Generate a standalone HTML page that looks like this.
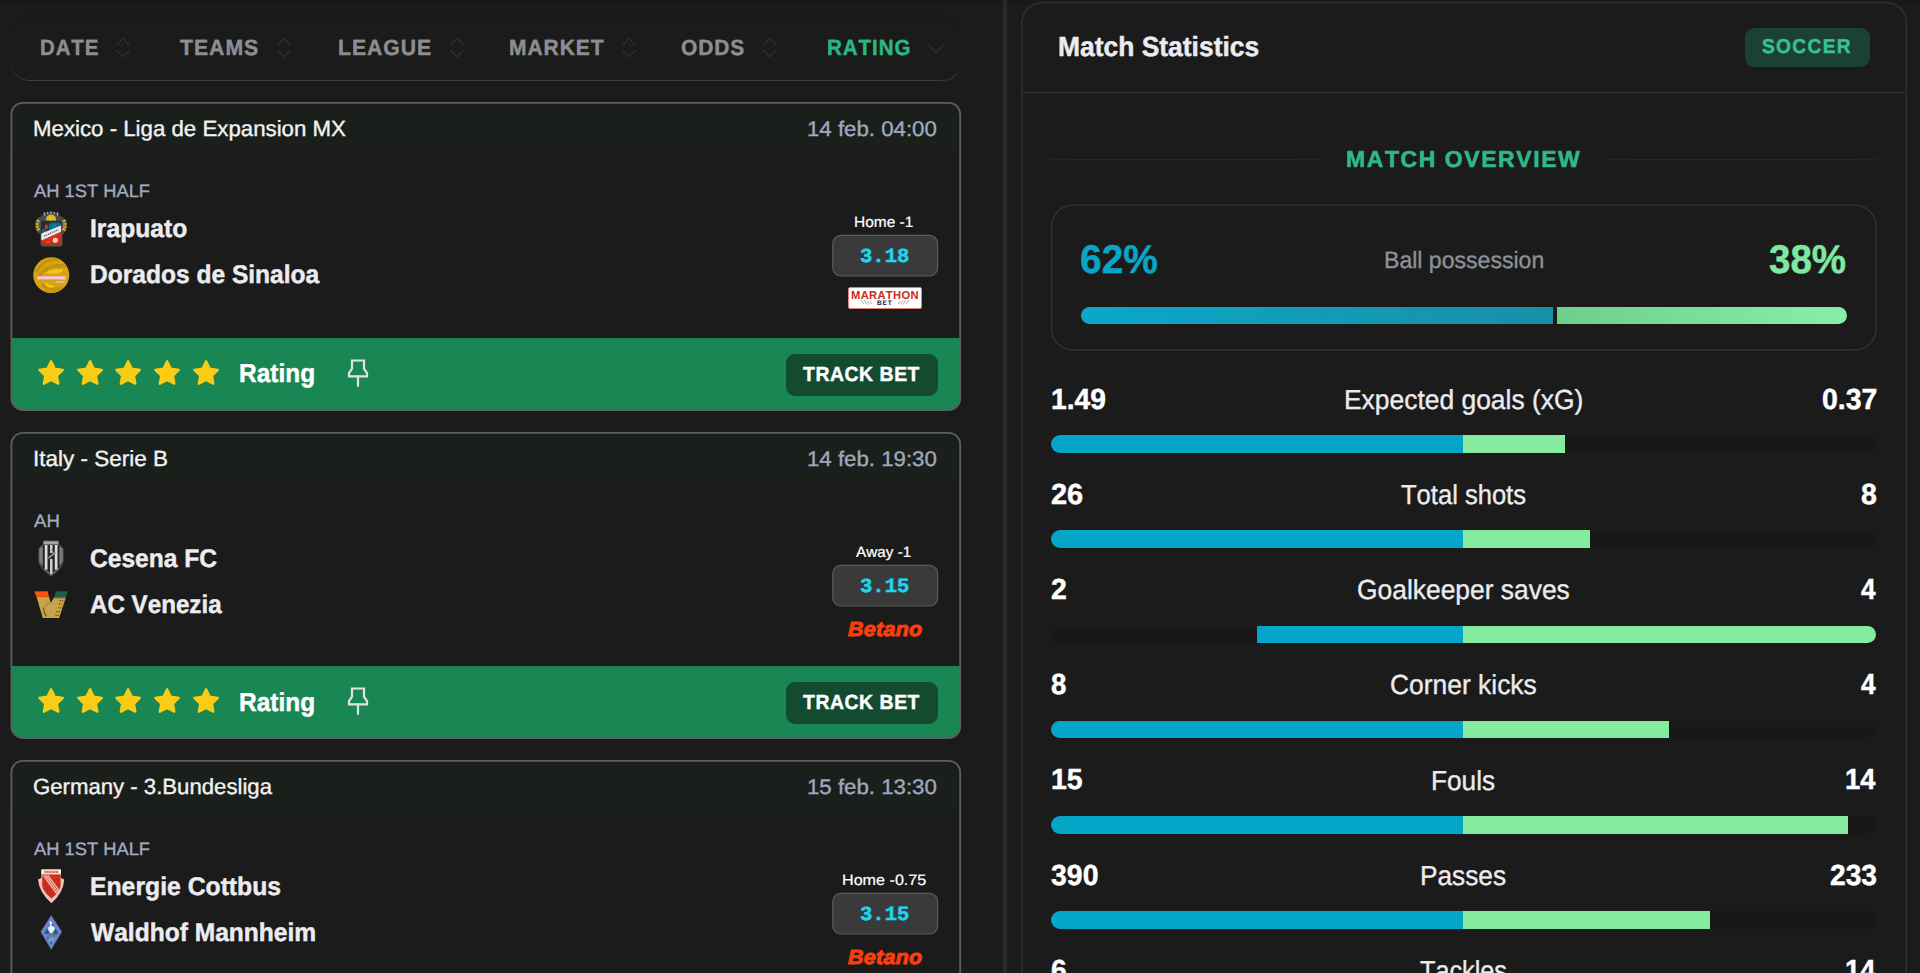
<!DOCTYPE html>
<html lang="en"><head><meta charset="utf-8"><title>Match Statistics</title>
<style>
html,body{margin:0;padding:0;background:#1b1b1b;}
body{width:1920px;height:973px;overflow:hidden;position:relative;font-family:"Liberation Sans",sans-serif;}
.t{position:absolute;white-space:nowrap;transform-origin:0 0;text-rendering:geometricPrecision;font-kerning:none !important;}
.a{position:absolute;box-sizing:border-box;}
svg{position:absolute;overflow:visible;}
</style></head><body>

<div class="a" style="left:0;top:0;width:1920px;height:5px;background:#181818"></div>
<div class="a" style="left:1003px;top:0;width:4px;height:973px;background:#2a2a2a"></div>
<div class="a" style="left:10.5px;top:15.4px;width:950px;height:65.6px;border-radius:18.5px;background:#1b1b1b;border:0 solid transparent;border-top:3px solid #191919;border-bottom:1.6px solid #3e3e3e"></div>
<div class="t" style="left:39.57px;top:37px;font:700 22px/22px 'Liberation Sans',sans-serif;color:#8d8e93;letter-spacing:1.0px;-webkit-text-stroke:0.45px #8d8e93;transform:scaleX(0.9286);">DATE</div>
<svg style="left:116px;top:37px" width="14" height="20" viewBox="0 0 14 20" fill="none" stroke="#303030" stroke-width="1.3"><path d="M0.3 8.4 L7 1.4 L13.7 8.4"/><path d="M0.3 13 L7 19.8 L13.7 13"/></svg>
<div class="t" style="left:179.90px;top:37px;font:700 22px/22px 'Liberation Sans',sans-serif;color:#8d8e93;letter-spacing:1.0px;-webkit-text-stroke:0.45px #8d8e93;transform:scaleX(0.9667);">TEAMS</div>
<svg style="left:277.2px;top:37px" width="14" height="20" viewBox="0 0 14 20" fill="none" stroke="#303030" stroke-width="1.3"><path d="M0.3 8.4 L7 1.4 L13.7 8.4"/><path d="M0.3 13 L7 19.8 L13.7 13"/></svg>
<div class="t" style="left:337.72px;top:37px;font:700 22px/22px 'Liberation Sans',sans-serif;color:#8d8e93;letter-spacing:1.0px;-webkit-text-stroke:0.45px #8d8e93;transform:scaleX(0.9638);">LEAGUE</div>
<svg style="left:450px;top:37px" width="14" height="20" viewBox="0 0 14 20" fill="none" stroke="#303030" stroke-width="1.3"><path d="M0.3 8.4 L7 1.4 L13.7 8.4"/><path d="M0.3 13 L7 19.8 L13.7 13"/></svg>
<div class="t" style="left:508.53px;top:37px;font:700 22px/22px 'Liberation Sans',sans-serif;color:#8d8e93;letter-spacing:1.0px;-webkit-text-stroke:0.45px #8d8e93;transform:scaleX(0.9542);">MARKET</div>
<svg style="left:622px;top:37px" width="14" height="20" viewBox="0 0 14 20" fill="none" stroke="#303030" stroke-width="1.3"><path d="M0.3 8.4 L7 1.4 L13.7 8.4"/><path d="M0.3 13 L7 19.8 L13.7 13"/></svg>
<div class="t" style="left:680.98px;top:37px;font:700 22px/22px 'Liberation Sans',sans-serif;color:#8d8e93;letter-spacing:1.0px;-webkit-text-stroke:0.45px #8d8e93;transform:scaleX(0.9511);">ODDS</div>
<svg style="left:762.6px;top:37px" width="14" height="20" viewBox="0 0 14 20" fill="none" stroke="#303030" stroke-width="1.3"><path d="M0.3 8.4 L7 1.4 L13.7 8.4"/><path d="M0.3 13 L7 19.8 L13.7 13"/></svg>
<div class="t" style="left:826.76px;top:37px;font:700 22px/22px 'Liberation Sans',sans-serif;color:#2bb783;letter-spacing:1.0px;-webkit-text-stroke:0.45px #2bb783;transform:scaleX(0.9346);">RATING</div>
<svg style="left:926px;top:42px" width="20" height="12" viewBox="926 42 20 12" fill="none" stroke="#323232" stroke-width="1.3"><path d="M927.3 43.6 L936 52.4 L944.7 43.6"/></svg>
<div class="a" style="left:11.4px;top:102.8px;width:948.8px;height:307.2px;border-radius:11.5px;background:#1b1b1b;overflow:hidden">
<div class="a" style="left:0;top:0;width:100%;height:50.3px;background:#1a1f1c"></div>
<div class="a" style="left:0;top:235.3px;width:100%;height:90px;background:#198754"></div>
</div>
<svg style="left:0;top:0" width="1000" height="973"><rect x="11.4" y="102.8" width="948.8" height="307.2" rx="11.5" fill="none" stroke="#5e5e5e" stroke-width="1.8"/></svg>
<div class="t" style="left:33.28px;top:118px;font:400 22px/22px 'Liberation Sans',sans-serif;color:#f2f2f2;-webkit-text-stroke:0.35px #f2f2f2;transform:scaleX(1.0113);">Mexico - Liga de Expansion MX</div>
<div class="t" style="left:806.91px;top:119px;font:400 21px/21px 'Liberation Sans',sans-serif;color:#9fa9be;-webkit-text-stroke:0.35px #9fa9be;transform:scaleX(1.0591);">14 feb. 04:00</div>
<div class="t" style="left:33.57px;top:182px;font:400 18px/18px 'Liberation Sans',sans-serif;color:#9fabc2;-webkit-text-stroke:0.35px #9fabc2;transform:scaleX(1.0178);">AH 1ST HALF</div>
<div class="t" style="left:89.79px;top:217px;font:700 25.5px/25.5px 'Liberation Sans',sans-serif;color:#ececf0;-webkit-text-stroke:0.45px #ececf0;transform:scaleX(0.9667);">Irapuato</div>
<div class="t" style="left:90.09px;top:263px;font:700 25.5px/25.5px 'Liberation Sans',sans-serif;color:#ececf0;-webkit-text-stroke:0.45px #ececf0;transform:scaleX(0.9629);">Dorados de Sinaloa</div>
<div class="t" style="left:854.00px;top:215px;font:400 15px/15px 'Liberation Sans',sans-serif;color:#fff;-webkit-text-stroke:0.22px #fff;transform:scaleX(1.0326);">Home -1</div>
<svg style="left:830px;top:232.5px" width="110" height="46" viewBox="0 0 110 46"><rect x="2.8" y="2.4" width="104.8" height="40.6" rx="8" fill="#3a3a3a" stroke="#5c5c5c" stroke-width="1.2"/></svg>
<div class="t" style="left:859.81px;top:248px;font:700 20px/20px 'Liberation Mono',monospace;color:#22d3ee;-webkit-text-stroke:0.5px #22d3ee;transform:scaleX(1.0296);">3.18</div>
<div class="a" style="left:848px;top:286.7px;width:74px;height:22.5px;background:#fff;border:1px solid #e27f70;border-radius:2px"></div><div class="t" style="left:851.26px;top:291px;font:700 11.5px/11.5px 'Liberation Sans',sans-serif;color:#cc2a1a;letter-spacing:0.4px;transform:scaleX(0.9659);">MARATHON</div><div class="t" style="left:877.26px;top:301px;font:700 6.5px/6.5px 'Liberation Sans',sans-serif;color:#222;letter-spacing:0.8px;transform:scaleX(1.0145);">BET</div><svg style="left:860px;top:299.2px" width="50" height="7" viewBox="0 0 50 7" stroke="#aaa" stroke-width="1" fill="none"><path d="M1 1 L4 5 M4 1 L7 5.5 M7 1.5 L9.5 5.5 M10 2 L11.5 5"/><path d="M49 1 L46 5 M46 1 L43 5.5 M43 1.5 L40.5 5.5 M40 2 L38.5 5"/></svg>
<svg style="left:33px;top:208.5px" width="38" height="40" viewBox="33 209 38 40"><path d="M43 215.5 L44 212 L47 213.5 L51 211.5 L55 213.5 L58 212 L59 215.5 L64 218 Q68.4 224 65.4 231.6 L62.5 234.6 V244 Q62 246.6 59 246.6 H43.5 Q41 246.6 40.6 244 V234.6 L37 231.6 Q33.8 224 38 218 Z" fill="#4c4c4c" stroke="#3a3a3a" stroke-width="1" stroke-linejoin="round"/><path d="M44.3 215.5 L44.8 212.6 M47.6 214 L47.9 211.8 M51 213.6 V211.4 M54.4 214 L54.1 211.8 M57.7 215.5 L57.2 212.6" stroke="#b5b5b5" stroke-width="1.2"/><path d="M39 230.4 Q35.6 225 38.8 219.4" stroke="#c9aa36" stroke-width="3.4" fill="none" stroke-dasharray="2.2 0.7"/><path d="M63.2 230.4 Q66.6 225 63.4 219.4" stroke="#c9aa36" stroke-width="3.4" fill="none" stroke-dasharray="2.2 0.7"/><path d="M40.4 229 Q38.4 225 40.2 221" stroke="#8a3a1c" stroke-width="0.9" fill="none" stroke-dasharray="1 1.6"/><path d="M61.8 229 Q63.8 225 62 221" stroke="#8a3a1c" stroke-width="0.9" fill="none" stroke-dasharray="1 1.6"/><path d="M41 220.8 H61.2 L62 232 V243.5 Q62 246 59.5 246 H43.5 Q41.1 246 41 243.5 Z" fill="#8a4520"/><path d="M41 220.8 H61.2 V226 L41 235 Z" fill="#1d3238"/><path d="M49 224 Q51 221.6 55 222.4 Q59.5 221.4 60.8 224.5 L60.8 226.4 L49.6 231.2 Q47.8 228 49 224 Z" fill="#0d6a88"/><path d="M42.2 229.5 Q44 227.6 45.5 229.4 L46.2 232.4 L42 234.2 Z" fill="#0d6a88"/><path d="M53.2 226.2 Q54.6 224 56.2 225.4" stroke="#18a0c0" stroke-width="0.8" fill="none"/><path d="M45 224.8 H47.8 V228.6 L46.4 229.6 L45 228.6 Z" fill="#cf3a1c"/><path d="M46 220.6 Q45.6 216.4 48.6 215.2 Q51 213.8 53.6 215.2 Q56.6 216.6 56 220.6 Z" fill="#d8b62a"/><path d="M50.8 216 L51.4 218 L53.2 218.4 L51.6 219.3 L51.8 220.6 H50 L50.2 219.3 L48.8 218.4 L50.4 218 Z" fill="#f2c414"/><path d="M60.9 225.4 V231.8 L41.4 240.4 V233.6 Z" fill="#ececec"/><path d="M44 236.2 L58.5 229.6" stroke="#7d7d7d" stroke-width="1.8" stroke-dasharray="1.4 0.8"/><path d="M60.6 232.4 V243 H43.6 Q42 243 42 241.4 L41.8 240.6 Z" fill="#dc3018"/><circle cx="55.3" cy="240.2" r="2.5" fill="#f6d2cb"/><circle cx="55.3" cy="240.2" r="1" fill="#cfdfe6"/><rect x="47.2" y="241.2" width="1.8" height="1.6" fill="#ff5a0a"/></svg><svg style="left:32px;top:255.5px" width="39" height="39" viewBox="32 256 39 39"><defs><clipPath id="dc"><circle cx="51.25" cy="275.15" r="17.9"/></clipPath></defs><circle cx="51.25" cy="275.15" r="17.95" fill="#d8a414"/><g clip-path="url(#dc)"><path d="M36 272 Q44 258 60 259" stroke="#c4930e" stroke-width="3" fill="none"/><path d="M38 278 Q45 264 66 266" stroke="#c4930e" stroke-width="3.6" fill="none"/><path d="M42 284 Q48 292 60 288" stroke="#c4930e" stroke-width="3.2" fill="none"/><path d="M44 290 Q52 296 64 286" stroke="#c9980f" stroke-width="2" fill="none"/><path d="M46 272.8 Q49 269.6 53 270.4 L56 268.4 L58.6 269.8 Q61.6 268.8 63.8 269.6 Q62 272.6 58 273 Q52 274.4 46 272.8 Z" fill="#f7c912"/><path d="M44.4 282.4 Q48 283.4 50.6 285.4 Q53.2 284.8 55 286.6 Q51 288.6 47.6 287 Q45.4 285.4 44.4 282.4 Z" fill="#f7c912"/><rect x="37.3" y="276.1" width="28.5" height="3.7" rx="0.8" fill="#eeb4bc"/><path d="M38.4 277.9 H65" stroke="#fbe9ec" stroke-width="1.3" stroke-dasharray="2 0.9"/><path d="M40 280.2 H60" stroke="#c9a12a" stroke-width="0.8"/><rect x="55.8" y="281.2" width="9" height="1.6" fill="#ecb0b8"/></g></svg>
<svg style="left:37.05px;top:358.70px" width="28.2" height="28.2" viewBox="0 0 24 24"><path d="M12 2l3.09 6.26L22 9.27l-5 4.87 1.18 6.88L12 17.77l-6.18 3.25L7 14.14 2 9.27l6.91-1.01L12 2z" fill="#facc15" stroke="#facc15" stroke-width="2" stroke-linejoin="round"/></svg>
<svg style="left:75.70px;top:358.70px" width="28.2" height="28.2" viewBox="0 0 24 24"><path d="M12 2l3.09 6.26L22 9.27l-5 4.87 1.18 6.88L12 17.77l-6.18 3.25L7 14.14 2 9.27l6.91-1.01L12 2z" fill="#facc15" stroke="#facc15" stroke-width="2" stroke-linejoin="round"/></svg>
<svg style="left:114.35px;top:358.70px" width="28.2" height="28.2" viewBox="0 0 24 24"><path d="M12 2l3.09 6.26L22 9.27l-5 4.87 1.18 6.88L12 17.77l-6.18 3.25L7 14.14 2 9.27l6.91-1.01L12 2z" fill="#facc15" stroke="#facc15" stroke-width="2" stroke-linejoin="round"/></svg>
<svg style="left:153.00px;top:358.70px" width="28.2" height="28.2" viewBox="0 0 24 24"><path d="M12 2l3.09 6.26L22 9.27l-5 4.87 1.18 6.88L12 17.77l-6.18 3.25L7 14.14 2 9.27l6.91-1.01L12 2z" fill="#facc15" stroke="#facc15" stroke-width="2" stroke-linejoin="round"/></svg>
<svg style="left:191.65px;top:358.70px" width="28.2" height="28.2" viewBox="0 0 24 24"><path d="M12 2l3.09 6.26L22 9.27l-5 4.87 1.18 6.88L12 17.77l-6.18 3.25L7 14.14 2 9.27l6.91-1.01L12 2z" fill="#facc15" stroke="#facc15" stroke-width="2" stroke-linejoin="round"/></svg>
<div class="t" style="left:239.00px;top:360px;font:700 26px/26px 'Liberation Sans',sans-serif;color:#fff;-webkit-text-stroke:0.45px #fff;transform:scaleX(0.9409);">Rating</div>
<svg style="left:346px;top:357.1px" width="24" height="32" viewBox="0 0 24 32" fill="none" stroke="#e2e2e2" stroke-width="2.2" stroke-linejoin="miter"><path d="M6 3.5 H18 V11.6 L21 16.2 V19.4 H3 V16.2 L6 11.6 Z"/><path d="M12 19.6 V29" stroke-linecap="round"/></svg>
<div class="a" style="left:786px;top:354.1px;width:152px;height:42px;border-radius:9px;background:#124b30"></div>
<div class="t" style="left:803.22px;top:365px;font:700 20.5px/20.5px 'Liberation Sans',sans-serif;color:#fff;letter-spacing:0.6px;-webkit-text-stroke:0.45px #fff;transform:scaleX(0.9450);">TRACK BET</div>
<div class="a" style="left:11.4px;top:432.8px;width:948.8px;height:305.2px;border-radius:11.5px;background:#1b1b1b;overflow:hidden">
<div class="a" style="left:0;top:0;width:100%;height:50.3px;background:#1a1f1c"></div>
<div class="a" style="left:0;top:233.45px;width:100%;height:90px;background:#198754"></div>
</div>
<svg style="left:0;top:0" width="1000" height="973"><rect x="11.4" y="432.8" width="948.8" height="305.2" rx="11.5" fill="none" stroke="#5e5e5e" stroke-width="1.8"/></svg>
<div class="t" style="left:33.03px;top:448px;font:400 22px/22px 'Liberation Sans',sans-serif;color:#f2f2f2;-webkit-text-stroke:0.35px #f2f2f2;transform:scaleX(1.0228);">Italy - Serie B</div>
<div class="t" style="left:806.91px;top:449px;font:400 21px/21px 'Liberation Sans',sans-serif;color:#9fa9be;-webkit-text-stroke:0.35px #9fa9be;transform:scaleX(1.0591);">14 feb. 19:30</div>
<div class="t" style="left:33.57px;top:512px;font:400 18px/18px 'Liberation Sans',sans-serif;color:#9fabc2;-webkit-text-stroke:0.35px #9fabc2;transform:scaleX(1.0335);">AH</div>
<div class="t" style="left:90.23px;top:547px;font:700 25.5px/25.5px 'Liberation Sans',sans-serif;color:#ececf0;-webkit-text-stroke:0.45px #ececf0;transform:scaleX(0.9629);">Cesena FC</div>
<div class="t" style="left:90.13px;top:593px;font:700 25.5px/25.5px 'Liberation Sans',sans-serif;color:#ececf0;-webkit-text-stroke:0.45px #ececf0;transform:scaleX(0.9474);">AC Venezia</div>
<div class="t" style="left:856.44px;top:545px;font:400 15px/15px 'Liberation Sans',sans-serif;color:#fff;-webkit-text-stroke:0.22px #fff;transform:scaleX(1.0196);">Away -1</div>
<svg style="left:830px;top:562.5px" width="110" height="46" viewBox="0 0 110 46"><rect x="2.8" y="2.4" width="104.8" height="40.6" rx="8" fill="#3a3a3a" stroke="#5c5c5c" stroke-width="1.2"/></svg>
<div class="t" style="left:859.82px;top:578px;font:700 20px/20px 'Liberation Mono',monospace;color:#22d3ee;-webkit-text-stroke:0.5px #22d3ee;transform:scaleX(1.0290);">3.15</div>
<div class="t" style="left:848.21px;top:620px;font:italic 700 20.5px/20.5px 'Liberation Sans',sans-serif;color:#ff3d0a;letter-spacing:0.3px;-webkit-text-stroke:0.95px #ff3d0a;transform:scaleX(1.0454);">Betano</div>
<svg style="left:36px;top:538.5px" width="30" height="39" viewBox="36 539 30 39"><path d="M43.6 541.1 H58.4 V545 Q62.4 546 63 549.5 V561 Q62.4 568 51.2 576 Q39.6 568 39 561 V549.5 Q39.6 546 43.6 545 Z" fill="#262626" stroke="#6a6a6a" stroke-width="0.9" stroke-linejoin="round"/><rect x="43.7" y="541.2" width="14.6" height="3.3" rx="0.6" fill="#a4a4a4"/><path d="M39.3 549.6 Q39.8 547.4 42.8 546.6 V566 Q39.8 563.4 39.3 561 Z" fill="#7c7c7c"/><path d="M62.7 549.6 Q62.2 547.4 59.4 546.6 V566 Q62.2 563.4 62.7 561 Z" fill="#7c7c7c"/><rect x="44.8" y="545" width="2.7" height="24.6" fill="#dedede"/><rect x="54.8" y="545" width="2.7" height="24.6" fill="#dedede"/><rect x="50" y="545" width="2.5" height="8" fill="#d0d0d0"/><rect x="50" y="559" width="2.5" height="15" fill="#d0d0d0"/><path d="M48.4 558.2 L55.6 552.4" stroke="#9a9a9a" stroke-width="1.7"/><path d="M50.6 549 Q52.6 550.4 53.6 553" stroke="#8a8a8a" stroke-width="1" fill="none"/><path d="M44 568.6 L51.2 574.6 L58.4 568.6" stroke="#8a8a8a" stroke-width="1" fill="none"/></svg><svg style="left:33px;top:588.5px" width="36" height="31" viewBox="33 589 36 31"><path d="M36.6 597 H49 L50.8 602.7 L54.1 597.6 H65.8 L59.2 618 H42.8 Z" fill="#c6a548"/><path d="M34.2 591.2 H47.7 L49.2 597.3 H36.6 Z" fill="#fb4708"/><path d="M37 595 H48.4 M36.4 593 H47.6" stroke="#f2a018" stroke-width="0.9" stroke-dasharray="1 1.3" opacity="0.8"/><path d="M56.1 591.2 H68 L65.8 597.4 H54.1 Z" fill="#1d5e44"/><path d="M54 597.4 H65.8 L65.5 598.4 H53.5 Z" fill="#75756a"/><path d="M43.4 608 Q44 613 46.4 616.4" stroke="#854418" stroke-width="1.2" fill="none"/><path d="M43.6 607.6 Q47 603.4 50.4 602.8" stroke="#854418" stroke-width="1" fill="none" stroke-dasharray="1.4 1"/><path d="M59.6 600.6 H63.2 M58.4 604 H62 M58 607.8 H61.4 M56 611.6 H60 M55.4 615.4 H59" stroke="#8c4a1c" stroke-width="1.1" stroke-dasharray="1.5 0.8"/><path d="M47.6 609 H55 M48.4 612 H55 M49.6 606 H56" stroke="#e7a0a0" stroke-width="0.8" stroke-dasharray="0.8 1.4"/></svg>
<svg style="left:37.05px;top:686.85px" width="28.2" height="28.2" viewBox="0 0 24 24"><path d="M12 2l3.09 6.26L22 9.27l-5 4.87 1.18 6.88L12 17.77l-6.18 3.25L7 14.14 2 9.27l6.91-1.01L12 2z" fill="#facc15" stroke="#facc15" stroke-width="2" stroke-linejoin="round"/></svg>
<svg style="left:75.70px;top:686.85px" width="28.2" height="28.2" viewBox="0 0 24 24"><path d="M12 2l3.09 6.26L22 9.27l-5 4.87 1.18 6.88L12 17.77l-6.18 3.25L7 14.14 2 9.27l6.91-1.01L12 2z" fill="#facc15" stroke="#facc15" stroke-width="2" stroke-linejoin="round"/></svg>
<svg style="left:114.35px;top:686.85px" width="28.2" height="28.2" viewBox="0 0 24 24"><path d="M12 2l3.09 6.26L22 9.27l-5 4.87 1.18 6.88L12 17.77l-6.18 3.25L7 14.14 2 9.27l6.91-1.01L12 2z" fill="#facc15" stroke="#facc15" stroke-width="2" stroke-linejoin="round"/></svg>
<svg style="left:153.00px;top:686.85px" width="28.2" height="28.2" viewBox="0 0 24 24"><path d="M12 2l3.09 6.26L22 9.27l-5 4.87 1.18 6.88L12 17.77l-6.18 3.25L7 14.14 2 9.27l6.91-1.01L12 2z" fill="#facc15" stroke="#facc15" stroke-width="2" stroke-linejoin="round"/></svg>
<svg style="left:191.65px;top:686.85px" width="28.2" height="28.2" viewBox="0 0 24 24"><path d="M12 2l3.09 6.26L22 9.27l-5 4.87 1.18 6.88L12 17.77l-6.18 3.25L7 14.14 2 9.27l6.91-1.01L12 2z" fill="#facc15" stroke="#facc15" stroke-width="2" stroke-linejoin="round"/></svg>
<div class="t" style="left:239.00px;top:689px;font:700 26px/26px 'Liberation Sans',sans-serif;color:#fff;-webkit-text-stroke:0.45px #fff;transform:scaleX(0.9409);">Rating</div>
<svg style="left:346px;top:685.2px" width="24" height="32" viewBox="0 0 24 32" fill="none" stroke="#e2e2e2" stroke-width="2.2" stroke-linejoin="miter"><path d="M6 3.5 H18 V11.6 L21 16.2 V19.4 H3 V16.2 L6 11.6 Z"/><path d="M12 19.6 V29" stroke-linecap="round"/></svg>
<div class="a" style="left:786px;top:682.2px;width:152px;height:42px;border-radius:9px;background:#124b30"></div>
<div class="t" style="left:803.22px;top:693px;font:700 20.5px/20.5px 'Liberation Sans',sans-serif;color:#fff;letter-spacing:0.6px;-webkit-text-stroke:0.45px #fff;transform:scaleX(0.9450);">TRACK BET</div>
<div class="a" style="left:11.4px;top:760.8px;width:948.8px;height:400px;border-radius:11.5px;background:#1b1b1b;overflow:hidden">
<div class="a" style="left:0;top:0;width:100%;height:50.3px;background:#1a1f1c"></div>
</div>
<svg style="left:0;top:0" width="1000" height="973"><rect x="11.4" y="760.8" width="948.8" height="400" rx="11.5" fill="none" stroke="#5e5e5e" stroke-width="1.8"/></svg>
<div class="t" style="left:33.49px;top:776px;font:400 22px/22px 'Liberation Sans',sans-serif;color:#f2f2f2;-webkit-text-stroke:0.35px #f2f2f2;transform:scaleX(1.0075);">Germany - 3.Bundesliga</div>
<div class="t" style="left:806.91px;top:777px;font:400 21px/21px 'Liberation Sans',sans-serif;color:#9fa9be;-webkit-text-stroke:0.35px #9fa9be;transform:scaleX(1.0591);">15 feb. 13:30</div>
<div class="t" style="left:33.57px;top:840px;font:400 18px/18px 'Liberation Sans',sans-serif;color:#9fabc2;-webkit-text-stroke:0.35px #9fabc2;transform:scaleX(1.0178);">AH 1ST HALF</div>
<div class="t" style="left:89.78px;top:875px;font:700 25.5px/25.5px 'Liberation Sans',sans-serif;color:#ececf0;-webkit-text-stroke:0.45px #ececf0;transform:scaleX(0.9704);">Energie Cottbus</div>
<div class="t" style="left:90.71px;top:921px;font:700 25.5px/25.5px 'Liberation Sans',sans-serif;color:#ececf0;-webkit-text-stroke:0.45px #ececf0;transform:scaleX(0.9634);">Waldhof Mannheim</div>
<div class="t" style="left:842.34px;top:873px;font:400 15px/15px 'Liberation Sans',sans-serif;color:#fff;-webkit-text-stroke:0.22px #fff;transform:scaleX(1.0753);">Home -0.75</div>
<svg style="left:830px;top:890.5px" width="110" height="46" viewBox="0 0 110 46"><rect x="2.8" y="2.4" width="104.8" height="40.6" rx="8" fill="#3a3a3a" stroke="#5c5c5c" stroke-width="1.2"/></svg>
<div class="t" style="left:859.82px;top:906px;font:700 20px/20px 'Liberation Mono',monospace;color:#22d3ee;-webkit-text-stroke:0.5px #22d3ee;transform:scaleX(1.0290);">3.15</div>
<div class="t" style="left:848.21px;top:948px;font:italic 700 20.5px/20.5px 'Liberation Sans',sans-serif;color:#ff3d0a;letter-spacing:0.3px;-webkit-text-stroke:0.95px #ff3d0a;transform:scaleX(1.0454);">Betano</div>
<svg style="left:36px;top:866.5px" width="30" height="39" viewBox="36 867 30 39"><path d="M41.3 869.2 H61 V878 L64.3 879.4 Q63.6 892 51.5 903.3 Q39 892 38 879.4 L41.3 878 Z" fill="#f3c0b4"/><path d="M42.2 874.4 H60.6 V886 Q59.6 892 51.5 898.6 Q43.4 892 42.2 886 Z" fill="#c62f1c"/><rect x="41.8" y="869.8" width="18.8" height="4.3" fill="#f7d9d4"/><rect x="41.6" y="870.6" width="1.6" height="3" fill="#fff"/><rect x="59.2" y="870.6" width="1.6" height="3" fill="#fff"/><path d="M44.6 872 H58" stroke="#d55f50" stroke-width="2" stroke-dasharray="1.6 0.7"/><path d="M43.4 875.4 L57 894.2" stroke="#f3c0b4" stroke-width="1.3"/><path d="M45.4 875 L58.2 892.6" stroke="#f3c0b4" stroke-width="1.3"/><path d="M47.6 874.8 L59.4 890.8" stroke="#f3c0b4" stroke-width="1.3"/><path d="M52 877.6 L53.2 876.4 L54.4 877.6 L55.8 876.6 L57 878" stroke="#ff4a12" stroke-width="0.9" fill="none"/></svg><svg style="left:38px;top:912.5px" width="26" height="39" viewBox="38 913 26 39"><path d="M51.2 915.2 L61.9 931.8 L51.2 949.7 L40.6 931.8 Z" fill="#6b85cc" stroke="#4a4a40" stroke-width="0.5"/><path d="M44.2 934 L46.8 928.2 L49.6 934 Z" fill="#0b6a78"/><path d="M53 934 L55.8 928.2 L58.4 934 Z" fill="#0b6a78"/><path d="M49.2 921.4 Q52.4 920.6 51.8 923.6 L51.4 926 Q54.6 926.4 54.8 929 L52 933 H50.4 Q47.8 930.4 48.2 927.4 L50 926.4 Q50.6 923.4 49.2 921.4 Z" fill="#eef1f4"/><rect x="48.6" y="934.2" width="8.4" height="2.4" rx="0.8" fill="#69747f"/><path d="M49.4 941.8 Q50 938.4 51.6 938.2 Q53.4 938.4 53.6 941" stroke="#a9bbe2" stroke-width="0.9" fill="none"/><rect x="47" y="937" width="1.6" height="1.6" fill="#0b6a78"/><rect x="50.2" y="942" width="1.8" height="1.6" fill="#0b6a78"/><rect x="52" y="924.4" width="1.6" height="1.4" fill="#0b6a78"/></svg>
<svg style="left:1000px;top:0" width="920" height="973" viewBox="1000 0 920 973"><rect x="1022" y="2.6" width="884.3" height="1100" rx="20" fill="#1b1b1b" stroke="#2e2e2e" stroke-width="1.7"/><path d="M1023 92.6 H1905.5" stroke="#2c2c2c" stroke-width="1.6"/></svg>
<div class="t" style="left:1057.77px;top:33px;font:700 27.5px/27.5px 'Liberation Sans',sans-serif;color:#ececf0;-webkit-text-stroke:0.45px #ececf0;transform:scaleX(0.9609);">Match Statistics</div>
<div class="a" style="left:1745px;top:28px;width:125px;height:39px;border-radius:9px;background:#1c4035"></div>
<div class="t" style="left:1762.28px;top:37px;font:700 20px/20px 'Liberation Sans',sans-serif;color:#34c38f;letter-spacing:1.4px;-webkit-text-stroke:0.45px #34c38f;transform:scaleX(0.9569);">SOCCER</div>
<div class="a" style="left:1051px;top:158.8px;width:273px;height:1px;background:linear-gradient(90deg,#262626,#2a2a2a 80%,#222)"></div>
<div class="a" style="left:1603px;top:158.8px;width:273px;height:1px;background:linear-gradient(270deg,#262626,#2a2a2a 80%,#222)"></div>
<div class="t" style="left:1345.94px;top:148px;font:700 23px/23px 'Liberation Sans',sans-serif;color:#2fb888;letter-spacing:1.6px;-webkit-text-stroke:0.6px #2fb888;transform:scaleX(0.9979);">MATCH OVERVIEW</div>
<svg style="left:1040px;top:195px" width="850" height="170" viewBox="1040 195 850 170"><rect x="1051.6" y="205.3" width="824.4" height="144.6" rx="21" fill="none" stroke="#303030" stroke-width="1.6"/></svg>
<div class="t" style="left:1080.11px;top:240px;font:700 40px/40px 'Liberation Sans',sans-serif;color:#06a6c8;-webkit-text-stroke:0.45px #06a6c8;transform:scaleX(0.9728);">62%</div>
<div class="t" style="left:1768.75px;top:240px;font:700 40px/40px 'Liberation Sans',sans-serif;color:#7ee8a2;-webkit-text-stroke:0.45px #7ee8a2;transform:scaleX(0.9634);">38%</div>
<div class="t" style="left:1383.61px;top:249px;font:400 23.5px/23.5px 'Liberation Sans',sans-serif;color:#8e9196;-webkit-text-stroke:0.35px #8e9196;transform:scaleX(0.9816);">Ball possession</div>
<div class="a" style="left:1080.7px;top:306.8px;width:472.3px;height:17.6px;border-radius:9px 0 0 9px;background:linear-gradient(90deg,#0ba7c9,#188fa8)"></div>
<div class="a" style="left:1556.7px;top:306.8px;width:290.3px;height:17.6px;border-radius:0 9px 9px 0;background:linear-gradient(90deg,#6fce8a,#86efac)"></div>
<div class="t" style="left:1050.56px;top:386px;font:700 29px/29px 'Liberation Sans',sans-serif;color:#fff;-webkit-text-stroke:0.45px #fff;transform:scaleX(0.9737);">1.49</div>
<div class="t" style="left:1343.64px;top:386px;font:400 27.5px/27.5px 'Liberation Sans',sans-serif;color:#ececf0;-webkit-text-stroke:0.35px #ececf0;transform:scaleX(0.9605);">Expected goals (xG)</div>
<div class="t" style="left:1821.51px;top:386px;font:700 29px/29px 'Liberation Sans',sans-serif;color:#fff;-webkit-text-stroke:0.45px #fff;transform:scaleX(0.9817);">0.37</div>
<div class="a" style="left:1050.75px;top:435.1px;width:825.5px;height:17.8px;border-radius:9px;background:#181818;overflow:hidden"><div class="a" style="left:-0.50px;top:0;width:412.75px;height:100%;background:#04a5c6"></div><div class="a" style="left:412.25px;top:0;width:102.49px;height:100%;background:#86eb9f"></div></div>
<div class="t" style="left:1050.73px;top:481px;font:700 29px/29px 'Liberation Sans',sans-serif;color:#fff;-webkit-text-stroke:0.45px #fff;transform:scaleX(0.9976);">26</div>
<div class="t" style="left:1401.23px;top:481px;font:400 27.5px/27.5px 'Liberation Sans',sans-serif;color:#ececf0;-webkit-text-stroke:0.35px #ececf0;transform:scaleX(0.9292);">Total shots</div>
<div class="t" style="left:1860.73px;top:481px;font:700 29px/29px 'Liberation Sans',sans-serif;color:#fff;-webkit-text-stroke:0.45px #fff;transform:scaleX(0.9800);">8</div>
<div class="a" style="left:1050.75px;top:530.3px;width:825.5px;height:17.8px;border-radius:9px;background:#181818;overflow:hidden"><div class="a" style="left:-0.50px;top:0;width:412.75px;height:100%;background:#04a5c6"></div><div class="a" style="left:412.25px;top:0;width:127.00px;height:100%;background:#86eb9f"></div></div>
<div class="t" style="left:1050.75px;top:576px;font:700 29px/29px 'Liberation Sans',sans-serif;color:#fff;-webkit-text-stroke:0.45px #fff;transform:scaleX(0.9762);">2</div>
<div class="t" style="left:1356.98px;top:576px;font:400 27.5px/27.5px 'Liberation Sans',sans-serif;color:#ececf0;-webkit-text-stroke:0.35px #ececf0;transform:scaleX(0.9599);">Goalkeeper saves</div>
<div class="t" style="left:1861.24px;top:576px;font:700 29px/29px 'Liberation Sans',sans-serif;color:#fff;-webkit-text-stroke:0.45px #fff;transform:scaleX(0.9032);">4</div>
<div class="a" style="left:1050.75px;top:625.5px;width:825.5px;height:17.8px;border-radius:9px;background:#181818;overflow:hidden"><div class="a" style="left:205.88px;top:0;width:206.38px;height:100%;background:#04a5c6"></div><div class="a" style="left:412.25px;top:0;width:412.75px;height:100%;background:#86eb9f"></div></div>
<div class="t" style="left:1050.86px;top:671px;font:700 29px/29px 'Liberation Sans',sans-serif;color:#fff;-webkit-text-stroke:0.45px #fff;transform:scaleX(0.9521);">8</div>
<div class="t" style="left:1389.96px;top:671px;font:400 27.5px/27.5px 'Liberation Sans',sans-serif;color:#ececf0;-webkit-text-stroke:0.35px #ececf0;transform:scaleX(0.9606);">Corner kicks</div>
<div class="t" style="left:1861.24px;top:671px;font:700 29px/29px 'Liberation Sans',sans-serif;color:#fff;-webkit-text-stroke:0.45px #fff;transform:scaleX(0.9032);">4</div>
<div class="a" style="left:1050.75px;top:720.7px;width:825.5px;height:17.8px;border-radius:9px;background:#181818;overflow:hidden"><div class="a" style="left:-0.50px;top:0;width:412.75px;height:100%;background:#04a5c6"></div><div class="a" style="left:412.25px;top:0;width:206.38px;height:100%;background:#86eb9f"></div></div>
<div class="t" style="left:1050.54px;top:766px;font:700 29px/29px 'Liberation Sans',sans-serif;color:#fff;-webkit-text-stroke:0.45px #fff;transform:scaleX(0.9800);">15</div>
<div class="t" style="left:1431.16px;top:767px;font:400 27.5px/27.5px 'Liberation Sans',sans-serif;color:#ececf0;-webkit-text-stroke:0.35px #ececf0;transform:scaleX(0.9530);">Fouls</div>
<div class="t" style="left:1845.41px;top:766px;font:700 29px/29px 'Liberation Sans',sans-serif;color:#fff;-webkit-text-stroke:0.45px #fff;transform:scaleX(0.9424);">14</div>
<div class="a" style="left:1050.75px;top:815.9px;width:825.5px;height:17.8px;border-radius:9px;background:#181818;overflow:hidden"><div class="a" style="left:-0.50px;top:0;width:412.75px;height:100%;background:#04a5c6"></div><div class="a" style="left:412.25px;top:0;width:385.23px;height:100%;background:#86eb9f"></div></div>
<div class="t" style="left:1051.08px;top:862px;font:700 29px/29px 'Liberation Sans',sans-serif;color:#fff;-webkit-text-stroke:0.45px #fff;transform:scaleX(0.9807);">390</div>
<div class="t" style="left:1420.15px;top:862px;font:400 27.5px/27.5px 'Liberation Sans',sans-serif;color:#ececf0;-webkit-text-stroke:0.35px #ececf0;transform:scaleX(0.9547);">Passes</div>
<div class="t" style="left:1829.66px;top:862px;font:700 29px/29px 'Liberation Sans',sans-serif;color:#fff;-webkit-text-stroke:0.45px #fff;transform:scaleX(0.9719);">233</div>
<div class="a" style="left:1050.75px;top:911.1px;width:825.5px;height:17.8px;border-radius:9px;background:#181818;overflow:hidden"><div class="a" style="left:-0.50px;top:0;width:412.75px;height:100%;background:#04a5c6"></div><div class="a" style="left:412.25px;top:0;width:246.59px;height:100%;background:#86eb9f"></div></div>
<div class="t" style="left:1050.70px;top:957px;font:700 29px/29px 'Liberation Sans',sans-serif;color:#fff;-webkit-text-stroke:0.45px #fff;transform:scaleX(0.9723);">6</div>
<div class="t" style="left:1420.24px;top:957px;font:400 27.5px/27.5px 'Liberation Sans',sans-serif;color:#ececf0;-webkit-text-stroke:0.35px #ececf0;transform:scaleX(0.9179);">Tackles</div>
<div class="t" style="left:1845.41px;top:957px;font:700 29px/29px 'Liberation Sans',sans-serif;color:#fff;-webkit-text-stroke:0.45px #fff;transform:scaleX(0.9424);">14</div>
<div class="a" style="left:1050.75px;top:1006.3px;width:825.5px;height:17.8px;border-radius:9px;background:#181818;overflow:hidden"><div class="a" style="left:235.36px;top:0;width:176.89px;height:100%;background:#04a5c6"></div><div class="a" style="left:412.25px;top:0;width:412.75px;height:100%;background:#86eb9f"></div></div>
</body></html>
